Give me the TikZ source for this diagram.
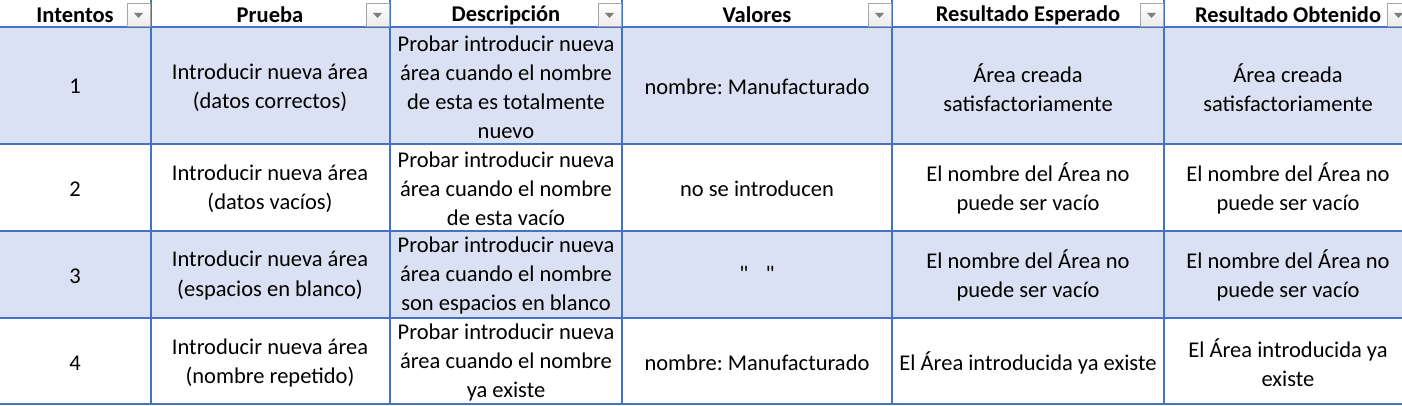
\documentclass[tikz,border=0pt]{standalone}
\usepackage{fontspec}
\setmainfont{Carlito}
\newfontfamily\plainquote{Carlito}
\frenchspacing
\definecolor{gridblue}{HTML}{4472C4}
\definecolor{bandblue}{HTML}{D9E1F2}
\definecolor{btnborder}{HTML}{A6A6A6}
\definecolor{btntri}{HTML}{7F7F7F}
\begin{document}
\begin{tikzpicture}[x=1pt,y=-1pt,
  cell/.style={align=center,inner sep=0pt,font=\fontsize{22.5}{29}\selectfont,text=black},
  head/.style={cell,font=\fontsize{22.5}{29}\selectfont\bfseries},
  gridline/.style={draw=gridblue,line width=1.4pt},
  btn/.style={draw=btnborder,line width=0.8pt,top color=white,bottom color=gray!15},
  tri/.style={fill=btntri,draw=none}]
\useasboundingbox (0,0) rectangle (1402,406);
% bands
\fill[bandblue] (0,27) rectangle (1402,144);
\fill[bandblue] (0,231) rectangle (1402,318);
% horizontal lines
\draw[gridline,line width=2pt] (0,27) -- (1402,27);
\foreach \y in {144,231,318,404} \draw[gridline] (0,\y) -- (1402,\y);
% vertical lines
\foreach \x in {151,390,622,892,1164} \draw[gridline] (\x,0) -- (\x,404);
% dropdown buttons
\foreach \xe in {151,390,622,892,1164,1411} {
  \draw[btn] (\xe-24,3) rectangle (\xe-1,26);
  \fill[tri] (\xe-17,13) -- (\xe-8,13) -- (\xe-12.5,18) -- cycle;
}
% header
\node[head] (h1) at (75,15) {Intentos};
\node[head] (h2) at (270,15) {Prueba};
\node[head] (h3) at (506,15) {Descripción};
\node[head] (h4) at (757,15) {Valores};
\node[head] (h5) at (1028,15) {Resultado Esperado};
\node[head] (h6) at (1288,15) {Resultado Obtenido};
% row 1
\node[cell] (r1c1) at (75,86) {1};
\node[cell] (r1c2) at (270,87.5) {Introducir nueva área\\(datos correctos)};
\node[cell] (r1c3) at (506,87.5) {Probar introducir nueva\\área cuando el nombre\\de esta es totalmente\\nuevo};
\node[cell] (r1c4) at (757,87) {nombre: Manufacturado};
\node[cell] (r1c5) at (1028,87.5) {Área creada\\satisfactoriamente};
\node[cell] (r1c6) at (1288,87.5) {Área creada\\satisfactoriamente};
% row 2
\node[cell] (r2c1) at (75,189) {2};
\node[cell] (r2c2) at (270,188.5) {Introducir nueva área\\(datos vacíos)};
\node[cell] (r2c3) at (506,188.5) {Probar introducir nueva\\área cuando el nombre\\de esta vacío};
\node[cell] (r2c4) at (757,189) {no se introducen};
\node[cell] (r2c5) at (1028,188.5) {El nombre del Área no\\puede ser vacío};
\node[cell] (r2c6) at (1288,188.5) {El nombre del Área no\\puede ser vacío};
% row 3
\node[cell] (r3c1) at (75,276) {3};
\node[cell] (r3c2) at (270,275.5) {Introducir nueva área\\(espacios en blanco)};
\node[cell] (r3c3) at (506,275.5) {Probar introducir nueva\\área cuando el nombre\\son espacios en blanco};
\node[cell] (r3c4) at (757,274) {\plainquote "\hspace{17pt}"};
\node[cell] (r3c5) at (1028,275.5) {El nombre del Área no\\puede ser vacío};
\node[cell] (r3c6) at (1288,275.5) {El nombre del Área no\\puede ser vacío};
% row 4
\node[cell] (r4c1) at (75,363) {4};
\node[cell] (r4c2) at (270,362.5) {Introducir nueva área\\(nombre repetido)};
\node[cell] (r4c3) at (506,362.5) {Probar introducir nueva\\área cuando el nombre\\ya existe};
\node[cell] (r4c4) at (757,363) {nombre: Manufacturado};
\node[cell] (r4c5) at (1028,363) {El Área introducida ya existe};
\node[cell] (r4c6) at (1288,362.5) {El Área introducida ya\\existe};
\end{tikzpicture}
\end{document}
